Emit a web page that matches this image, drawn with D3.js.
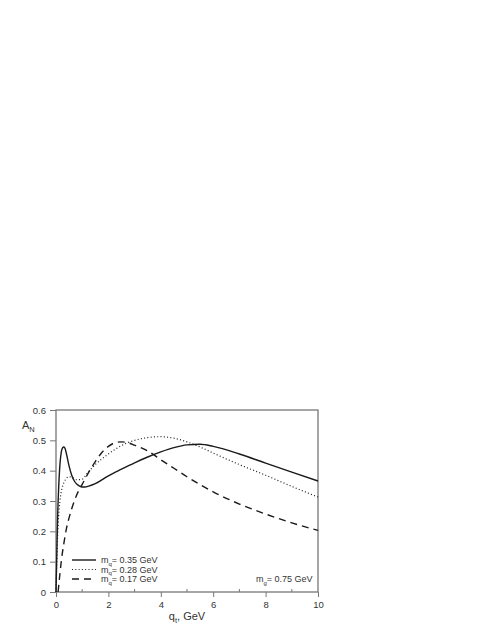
<!DOCTYPE html>
<html>
<head>
<meta charset="utf-8">
<script src="https://cdn.jsdelivr.net/npm/d3@7"></script>
<style>
  html, body { margin: 0; padding: 0; background: #fff; }
  svg { display: block; }
  text { font-family: "Liberation Sans", Arial, sans-serif; fill: #333; }
</style>
</head>
<body>
<script>
// ---- data ----
const xTicks = [0, 2, 4, 6, 8, 10];
const xMinorTicks = [1, 3, 5, 7, 9];
const yTicks = [0, 0.1, 0.2, 0.3, 0.4, 0.5, 0.6];
const yTickLabels = ["0", "0.1", "0.2", "0.3", "0.4", "0.5", "0.6"];

const solidX = [0, 0.03, 0.06, 0.1, 0.15, 0.2, 0.25, 0.3, 0.35, 0.4, 0.5, 0.6, 0.7, 0.8, 0.9, 1.0, 1.1, 1.25, 1.5, 2, 2.5, 3, 3.5, 4, 4.5, 5, 5.5, 6, 7, 8, 9, 10];
const solidY = [0, 0.12, 0.24, 0.34, 0.42, 0.46, 0.475, 0.478, 0.472, 0.455, 0.415, 0.385, 0.366, 0.355, 0.349, 0.346, 0.346, 0.349, 0.357, 0.383, 0.405, 0.426, 0.445, 0.462, 0.476, 0.485, 0.487, 0.48, 0.455, 0.425, 0.395, 0.366];

const dottedX = [0, 0.03, 0.06, 0.1, 0.15, 0.2, 0.3, 0.4, 0.5, 0.6, 0.8, 1.0, 1.2, 1.5, 2, 2.5, 3, 3.5, 4, 4.5, 5, 5.5, 6, 7, 8, 9, 10];
const dottedY = [0, 0.1, 0.18, 0.25, 0.3, 0.33, 0.36, 0.375, 0.38, 0.378, 0.37, 0.372, 0.392, 0.42, 0.455, 0.483, 0.5, 0.509, 0.512, 0.507, 0.495, 0.478, 0.458, 0.42, 0.385, 0.348, 0.313];

const dashedX = [0.08, 0.15, 0.2, 0.3, 0.4, 0.5, 0.7, 0.9, 1.0, 1.25, 1.5, 1.75, 2, 2.25, 2.5, 2.75, 3, 3.5, 4, 4.5, 5, 6, 7, 8, 9, 10];
const dashedY = [0, 0.06, 0.1, 0.16, 0.21, 0.245, 0.3, 0.34, 0.355, 0.395, 0.43, 0.46, 0.48, 0.492, 0.495, 0.492, 0.484, 0.465, 0.436, 0.408, 0.38, 0.33, 0.29, 0.257, 0.228, 0.203];

const seriesNames = ["0.35", "0.28", "0.17"];
const gluonMass = "0.75";

// ---- layout ----
const W = 491, H = 635;
const pLeft = 56, pRight = 318, pTop = 410, pBottom = 592;

const svg = d3.select("body").append("svg").attr("width", W).attr("height", H);

const x = d3.scaleLinear().domain([0, 10]).range([pLeft, pRight]);
const y = d3.scaleLinear().domain([0, 0.6]).range([pBottom, pTop]);

const axisColor = "#777";

// frame
svg.append("rect")
  .attr("x", pLeft).attr("y", pTop)
  .attr("width", pRight - pLeft).attr("height", pBottom - pTop)
  .attr("fill", "none").attr("stroke", axisColor).attr("stroke-width", 1.3);

// bottom axis major (outward)
const xAxis = svg.append("g").attr("transform", `translate(0,${pBottom})`)
  .call(d3.axisBottom(x).tickValues(xTicks).tickSize(5).tickPadding(4).tickFormat(d3.format("d")));
xAxis.select(".domain").remove();
xAxis.selectAll("line").attr("stroke", axisColor);
xAxis.selectAll("text").attr("font-size", 9.5).attr("fill", "#333")
  .style("font-family", "Liberation Sans, Arial, sans-serif");

// bottom minor (inward)
svg.append("g").selectAll("line").data(xMinorTicks).join("line")
  .attr("x1", d => x(d)).attr("x2", d => x(d))
  .attr("y1", pBottom).attr("y2", pBottom - 3)
  .attr("stroke", axisColor);

// left axis
const yAxis = svg.append("g").attr("transform", `translate(${pLeft},0)`)
  .call(d3.axisLeft(y).tickValues(yTicks).tickSize(6).tickPadding(4)
    .tickFormat((d, i) => yTickLabels[i]));
yAxis.select(".domain").remove();
yAxis.selectAll("line").attr("stroke", axisColor);
yAxis.selectAll("text").attr("font-size", 9.5).attr("fill", "#333")
  .style("font-family", "Liberation Sans, Arial, sans-serif");

// curves
const line = d3.line().x(d => x(d[0])).y(d => y(d[1])).curve(d3.curveMonotoneX);
const zip = (a, b) => a.map((v, i) => [v, b[i]]);

svg.append("path").datum(zip(solidX, solidY))
  .attr("d", line).attr("fill", "none").attr("stroke", "#1a1a1a").attr("stroke-width", 1.4);
svg.append("path").datum(zip(dottedX, dottedY))
  .attr("d", line).attr("fill", "none").attr("stroke", "#1a1a1a").attr("stroke-width", 1.2)
  .attr("stroke-dasharray", "1,2.3");
svg.append("path").datum(zip(dashedX, dashedY))
  .attr("d", line).attr("fill", "none").attr("stroke", "#1a1a1a").attr("stroke-width", 1.4)
  .attr("stroke-dasharray", "7,5");

// legend
const styles = [
  { dash: null, w: 1.4 },
  { dash: "1,2.3", w: 1.2 },
  { dash: "7,5", w: 1.4 }
];
const legY = [560, 569.5, 579];
seriesNames.forEach((m, i) => {
  svg.append("line")
    .attr("x1", 72).attr("x2", 96).attr("y1", legY[i]).attr("y2", legY[i])
    .attr("stroke", "#1a1a1a").attr("stroke-width", styles[i].w)
    .attr("stroke-dasharray", styles[i].dash);
  const t = svg.append("text").attr("x", 101).attr("y", legY[i] + 3.3).attr("font-size", 9);
  t.append("tspan").text("m");
  t.append("tspan").attr("font-size", 6).attr("dy", 2.5).text("q");
  t.append("tspan").attr("dy", -2.5).text("= " + m + " GeV");
});

const g = svg.append("text").attr("x", 256).attr("y", 582.3).attr("font-size", 9);
g.append("tspan").text("m");
g.append("tspan").attr("font-size", 6).attr("dy", 2.5).text("g");
g.append("tspan").attr("dy", -2.5).text("= " + gluonMass + " GeV");

// axis titles
const an = svg.append("text").attr("x", 22).attr("y", 429).attr("font-size", 11);
an.append("tspan").text("A");
an.append("tspan").attr("font-size", 7.5).attr("dy", 3).text("N");

const qt = svg.append("text").attr("x", 187).attr("y", 620).attr("text-anchor", "middle").attr("font-size", 11);
qt.append("tspan").text("q");
qt.append("tspan").attr("font-size", 7.5).attr("dy", 3).text("t");
qt.append("tspan").attr("dy", -3).text(", GeV");
</script>
</body>
</html>
